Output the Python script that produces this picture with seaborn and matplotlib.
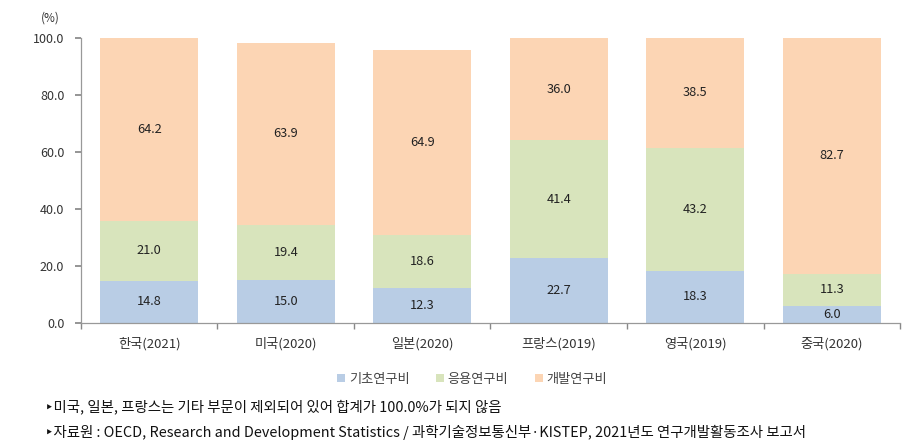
import matplotlib
matplotlib.use("Agg")
import matplotlib.pyplot as plt
import seaborn as sns
import numpy as np
from matplotlib.patches import Patch

categories = ["한국(2021)", "미국(2020)", "일본(2020)", "프랑스(2019)", "영국(2019)", "중국(2020)"]
basic = [14.8, 15.0, 12.3, 22.7, 18.3, 6.0]
applied = [21.0, 19.4, 18.6, 41.4, 43.2, 11.3]
development = [64.2, 63.9, 64.9, 36.0, 38.5, 82.7]
series_names = ["기초연구비", "응용연구비", "개발연구비"]
yticks = [0, 20, 40, 60, 80, 100]

c_basic = "#b9cde5"
c_applied = "#d8e4bc"
c_dev = "#fcd5b4"

sns.set_theme(style="white")
plt.rcParams['font.family'] = ['Noto Sans CJK KR', 'DejaVu Sans']

fig = plt.figure(figsize=(9.14, 4.46), dpi=100)
ax = fig.add_axes([0.0886, 0.2758, 0.8961, 0.639])

b = np.array(basic)
a = np.array(applied)
d = np.array(development)
tot = b + a + d
ba = b + a

sns.barplot(x=categories, y=tot, color=c_dev, saturation=1, width=0.715, ax=ax, order=categories)
sns.barplot(x=categories, y=ba, color=c_applied, saturation=1, width=0.715, ax=ax, order=categories)
sns.barplot(x=categories, y=b, color=c_basic, saturation=1, width=0.715, ax=ax, order=categories)
for p in ax.patches:
    p.set_edgecolor("none")

for i in range(len(categories)):
    ax.text(i, b[i] / 2, f"{b[i]:.1f}", ha="center", va="center", fontsize=9.2, color="#222222")
    ax.text(i, b[i] + a[i] / 2, f"{a[i]:.1f}", ha="center", va="center", fontsize=9.2, color="#222222")
    ax.text(i, ba[i] + d[i] / 2, f"{d[i]:.1f}", ha="center", va="center", fontsize=9.2, color="#222222")

ax.set_ylim(0, 100)
ax.set_xlim(-0.5, len(categories) - 0.5)
ax.set_yticks(yticks)
ax.set_yticklabels([f"{v:.1f}" for v in yticks], fontsize=9, color="#333333")
ax.set_xticks(range(len(categories)))
ax.set_xticklabels(categories, fontsize=9.5, color="#333333")
ax.set_xticks(np.arange(-0.5, len(categories), 1.0), minor=True)
ax.tick_params(axis="x", which="major", length=0, pad=10)
ax.tick_params(axis="x", which="minor", length=4, direction="out", color="#888888", bottom=True)
ax.tick_params(axis="y", length=4, direction="out", color="#888888", left=True, pad=8)
for s in ["top", "right"]:
    ax.spines[s].set_visible(False)
for s in ["left", "bottom"]:
    ax.spines[s].set_color("#999999")
    ax.spines[s].set_linewidth(0.9)
ax.set_xlabel("")
ax.set_ylabel("")

fig.text(50 / 914, 1 - 18 / 446, "(%)", fontsize=8.5, color="#333333", ha="center", va="center")

handles = [Patch(facecolor=c, edgecolor="none") for c in (c_basic, c_applied, c_dev)]
fig.legend(handles, series_names, loc="center", bbox_to_anchor=(472 / 914, 1 - 379 / 446), ncol=3,
           frameon=False, fontsize=9.5, handlelength=0.6, handleheight=0.6, handletextpad=0.3,
           columnspacing=2.0, labelcolor="#444444")

fig.text(45 / 914, 1 - 407 / 446, "‣미국, 일본, 프랑스는 기타 부문이 제외되어 있어 합계가 100.0%가 되지 않음",
         fontsize=10.4, color="#111111", ha="left", va="center", fontweight="medium")
fig.text(45 / 914, 1 - 432 / 446, "‣자료원 : OECD, Research and Development Statistics / 과학기술정보통신부·KISTEP, 2021년도 연구개발활동조사 보고서",
         fontsize=10.4, color="#111111", ha="left", va="center", fontweight="medium")

fig.savefig("out.png", dpi=100)
